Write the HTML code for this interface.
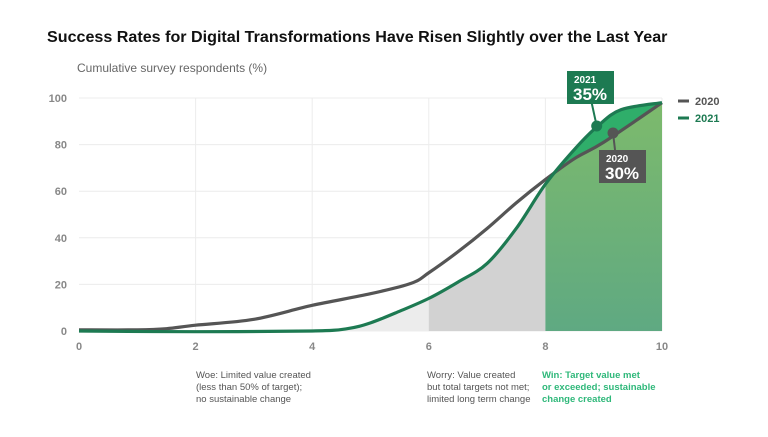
<!DOCTYPE html>
<html><head><meta charset="utf-8"><style>
body{margin:0;background:#fff;font-family:"Liberation Sans",sans-serif;}
svg text{font-family:"Liberation Sans",sans-serif;}
</style></head><body>
<svg width="768" height="432" viewBox="0 0 768 432">
<defs>
<linearGradient id="gg" x1="0" y1="0" x2="0" y2="1"><stop offset="0" stop-color="#7dba6c"/><stop offset="1" stop-color="#5fa982"/></linearGradient>
<clipPath id="cGrey1"><rect x="0" y="0" width="0" height="432" id="cg1r"/></clipPath>
<clipPath id="cGrey2"><rect x="0" y="0" width="0" height="432" id="cg2r"/></clipPath>
<clipPath id="cGreen"><rect x="0" y="0" width="0" height="432" id="cgr"/></clipPath>
</defs>
<text x="47" y="42" font-size="16.1" font-weight="bold" fill="#111">Success Rates for Digital Transformations Have Risen Slightly over the Last Year</text>
<text x="77" y="72" font-size="12" fill="#666">Cumulative survey respondents (%)</text>
<g id="grid"></g>
<g id="areas"></g>
<g id="lines"></g>
<g id="ann"></g>
<g>
<line x1="678" y1="101" x2="689" y2="101" stroke="#555" stroke-width="3"/>
<text x="695" y="105" font-size="11" font-weight="bold" fill="#555">2020</text>
<line x1="678" y1="118" x2="689" y2="118" stroke="#1d7a52" stroke-width="3"/>
<text x="695" y="122" font-size="11" font-weight="bold" fill="#1d7a52">2021</text>
</g>
<g font-size="9.5" fill="#555">
<text x="196" y="378">Woe: Limited value created</text>
<text x="196" y="390">(less than 50% of target);</text>
<text x="196" y="402">no sustainable change</text>
<text x="427" y="378">Worry: Value created</text>
<text x="427" y="390">but total targets not met;</text>
<text x="427" y="402">limited long term change</text>
<g fill="#2fb87a" font-weight="bold"><text x="542" y="378">Win: Target value met</text>
<text x="542" y="390">or exceeded; sustainable</text>
<text x="542" y="402">change created</text></g>
</g>
</svg>
<script>
const xTicks=[0,2,4,6,8,10];
const yTicks=[0,20,40,60,80,100];
const x2020=[0,1,1.5,2,3,4,5,5.7,6,6.5,7,7.5,8,8.5,9,10];
const v2020=[0.5,0.5,1,2.5,5,11,16,20.5,25,34,44,55,65,74,81,98];
const x2021=[0,2,4,4.6,5,5.5,6,6.5,7,7.5,8,8.5,8.9,9.3,10];
const v2021=[0,-0.3,0,1,3.5,8.5,14,21,29,44,63,78,88,95,98];
const marker2021=[8.88,88];
const marker2020=[9.16,85];
const NS="http://www.w3.org/2000/svg";
const X=v=>79+v*58.3, Y=v=>331-v*2.33;
function mk(t,a,p){const e=document.createElementNS(NS,t);for(const k in a)e.setAttribute(k,a[k]);p.appendChild(e);return e;}
const grid=document.getElementById('grid');
xTicks.forEach(t=>{
 if(t>0){const l=mk('line',{x1:X(t),x2:X(t),y1:Y(100),y2:Y(0),stroke:'#ececec'},grid);
 
 }
 const tx=mk('text',{x:X(t),y:350,'font-size':11,'font-weight':'bold',fill:'#888','text-anchor':'middle'},grid);tx.textContent=t;
 
 
});
yTicks.forEach(t=>{
 const l=mk('line',{x1:X(0),x2:X(10),y1:Y(t),y2:Y(t),stroke:'#ececec'},grid);
 
 
 const tx=mk('text',{x:67,y:Y(t)+4,'font-size':11,'font-weight':'bold',fill:'#888','text-anchor':'end'},grid);tx.textContent=t;
 
 
});
function pts(xs,vs){return xs.map((x,i)=>[X(x),Y(vs[i])]);}
function smooth(p){let d='M'+p[0][0]+','+p[0][1];for(let i=0;i<p.length-1;i++){const p0=p[i-1]||p[i],p1=p[i],p2=p[i+1],p3=p[i+2]||p2;
 d+=' C'+(p1[0]+(p2[0]-p0[0])/6)+','+(p1[1]+(p2[1]-p0[1])/6)+' '+(p2[0]-(p3[0]-p1[0])/6)+','+(p2[1]-(p3[1]-p1[1])/6)+' '+p2[0]+','+p2[1];}return d;}
const p20=pts(x2020,v2020),p21=pts(x2021,v2021);
const d20=smooth(p20),d21=smooth(p21);
const area21=d21+' L'+X(10)+','+Y(0)+' L'+X(0)+','+Y(0)+'Z';
document.getElementById('cg1r').setAttribute('x',X(4.6));document.getElementById('cg1r').setAttribute('width',X(6)-X(4.6));
document.getElementById('cg2r').setAttribute('x',X(6));document.getElementById('cg2r').setAttribute('width',X(8)-X(6));
document.getElementById('cgr').setAttribute('x',X(8));document.getElementById('cgr').setAttribute('width',X(10)-X(8));
const ar=document.getElementById('areas');
let a=mk('path',{d:area21,fill:'#ececec','clip-path':'url(#cGrey1)'},ar);


a=mk('path',{d:area21,fill:'#d2d2d2','clip-path':'url(#cGrey2)'},ar);


a=mk('path',{d:area21,fill:'url(#gg)','clip-path':'url(#cGreen)'},ar);


const rev=p20.slice().reverse();
let band=d21;rev.forEach(p=>band+=' L'+p[0]+','+p[1]);band+='Z';
a=mk('path',{d:band,fill:'#2fae6a','clip-path':'url(#cGreen)'},ar);


const ln=document.getElementById('lines');
let l=mk('path',{d:d20,fill:'none',stroke:'#555','stroke-width':3.2},ln);


l=mk('path',{d:d21,fill:'none',stroke:'#1d7a52','stroke-width':3.2},ln);


const an=document.getElementById('ann');
function callout(m,col,bx,by,yr,pct,name){
 const cx=X(m[0]),cy=Y(m[1]);
 mk('line',{x1:cx,y1:cy,x2:cx+(by<cy?-5:2),y2:by<cy?by+32:by,stroke:col,'stroke-width':2},an);
 const c=mk('circle',{cx:cx,cy:cy,r:5.5,fill:col},an);
 
 
 const r=mk('rect',{x:bx,y:by,width:47,height:33,fill:col},an);
 
 
 const t1=mk('text',{x:bx+7,y:by+12,'font-size':10,'font-weight':'bold',fill:'#fff'},an);t1.textContent=yr;
 const t2=mk('text',{x:bx+6,y:by+29,'font-size':17,'font-weight':'bold',fill:'#fff'},an);t2.textContent=pct;
}
callout(marker2021,'#1d7a52',567,71,'2021','35%','annotation-2021');
callout(marker2020,'#555',599,150,'2020','30%','annotation-2020');
</script>
</body></html>
